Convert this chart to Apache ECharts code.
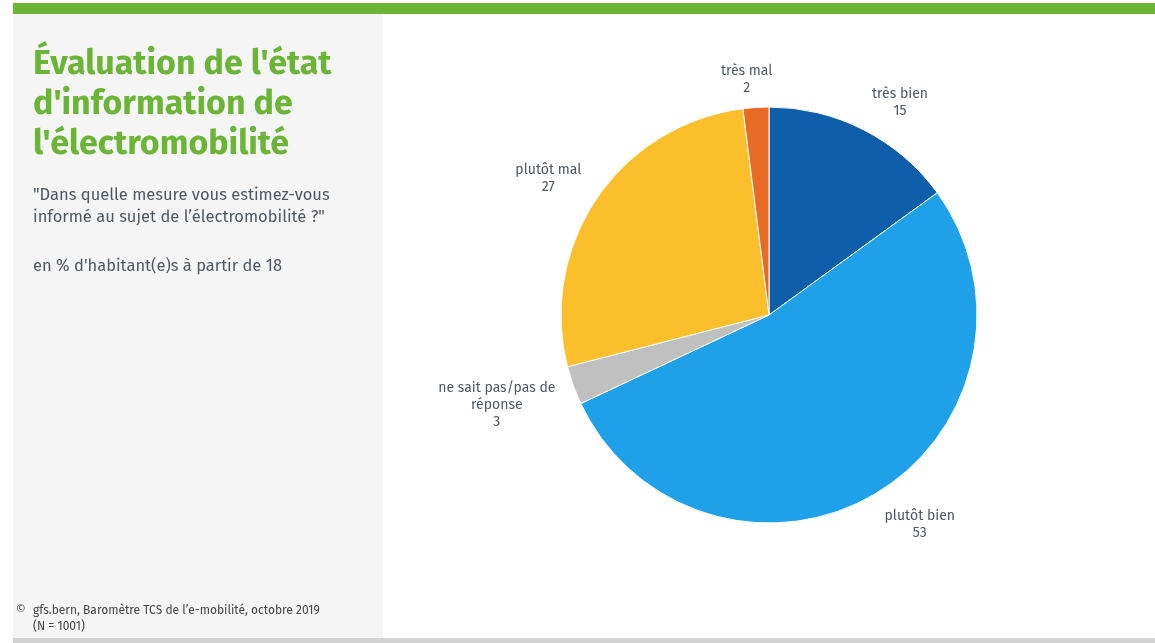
<!DOCTYPE html>
<html lang="fr">
<head>
<meta charset="utf-8">
<title>Évaluation de l'état d'information de l'électromobilité</title>
<script src="https://cdn.jsdelivr.net/npm/echarts@6/dist/echarts.min.js"></script>
<style>
  html, body { margin: 0; padding: 0; background: #ffffff; }
  #chart { width: 1155px; height: 643px; }
</style>
</head>
<body>
<div id="chart"></div>
<script>
// Survey answers, clockwise from twelve o'clock
const categories = ['très bien', 'plutôt bien', 'ne sait pas/pas de\nréponse', 'plutôt mal', 'très mal'];
const shares = [15, 53, 3, 27, 2];
const sliceColors = ['#0e5ea9', '#1fa1e9', '#c0c0c0', '#fbbf2b', '#e86b25'];

const titleLines = ["Évaluation de l'état", "d'information de", "l'électromobilité"];
const questionLines = ['"Dans quelle mesure vous estimez-vous', 'informé au sujet de l’électromobilité ?"'];
const unitNote = "en % d'habitant(e)s à partir de 18";
const sourceLines = ['gfs.bern, Baromètre TCS de l’e-mobilité, octobre 2019', '(N = 1001)'];

const FONT = "'Fira Sans', 'Noto Sans', 'Open Sans', sans-serif";
const TEXT_GREY = '#4d5863';
const GREEN = '#6bb536';

const pieCenter = [769, 315];
const pieRadius = 208;
const labelGap = 13;
const labelGapSide = 6;

const total = shares.reduce((a, b) => a + b, 0);
const startBefore = shares.map((_, i) => shares.slice(0, i).reduce((a, b) => a + b, 0));

// Outside-end label placement: anchor just beyond the rim, box pushed away from the pie
function placeLabel(params) {
  const i = params.dataIndex;
  const mid = (startBefore[i] + shares[i] / 2) / total * Math.PI * 2;
  const sx = Math.sin(mid), sy = -Math.cos(mid);
  const ax = pieCenter[0] + sx * (pieRadius + labelGap + labelGapSide);
  const ay = pieCenter[1] + 2 + sy * (pieRadius + labelGap);
  const clamp = (t, k) => Math.max(-1, Math.min(1, t * k));
  const w = params.labelRect.width, h = params.labelRect.height;
  return {
    x: ax + clamp(sx, 5) * w / 2,
    y: ay + clamp(sy, 1.5) * h / 2,
    align: 'center',
    verticalAlign: 'middle'
  };
}

const chart = echarts.init(document.getElementById('chart'), null, { renderer: 'canvas' });

const option = {
  animation: false,
  backgroundColor: '#ffffff',
  graphic: [
    { type: 'rect', shape: { x: 13, y: 3, width: 1142, height: 11 }, style: { fill: GREEN }, silent: true },
    { type: 'rect', shape: { x: 13, y: 14, width: 370, height: 624 }, style: { fill: '#f5f5f5' }, silent: true },
    { type: 'rect', shape: { x: 13, y: 638, width: 1142, height: 5 }, style: { fill: '#d2d2d2' }, silent: true },
    {
      type: 'text', left: 33, top: 45,
      style: {
        text: titleLines.join('\n'), fill: GREEN,
        font: "bold 34px " + FONT, lineHeight: 40
      }
    },
    {
      type: 'text', left: 33, top: 184,
      style: {
        text: questionLines.join('\n'), fill: TEXT_GREY,
        font: "16.5px " + FONT, lineHeight: 22
      }
    },
    {
      type: 'text', left: 33, top: 258,
      style: { text: unitNote, fill: TEXT_GREY, font: "16.5px " + FONT }
    },
    {
      type: 'text', left: 16, top: 604,
      style: { text: '©', fill: '#555555', font: "12px " + FONT }
    },
    {
      type: 'text', left: 33, top: 603,
      style: {
        text: sourceLines.join('\n'), fill: '#444444',
        font: "12px " + FONT, lineHeight: 16
      }
    }
  ],
  series: [{
    type: 'pie',
    center: pieCenter,
    radius: pieRadius,
    startAngle: 90,
    clockwise: true,
    avoidLabelOverlap: false,
    itemStyle: { borderColor: '#ffffff', borderWidth: 1 },
    label: {
      show: true,
      position: 'outside',
      formatter: '{b}\n{c}',
      color: TEXT_GREY,
      fontFamily: FONT,
      fontSize: 14,
      lineHeight: 17,
      align: 'center'
    },
    labelLine: { show: false },
    labelLayout: placeLabel,
    emphasis: { disabled: true },
    data: categories.map((name, i) => ({
      name: name,
      value: shares[i],
      itemStyle: { color: sliceColors[i] }
    }))
  }]
};

chart.setOption(option);
</script>
</body>
</html>
